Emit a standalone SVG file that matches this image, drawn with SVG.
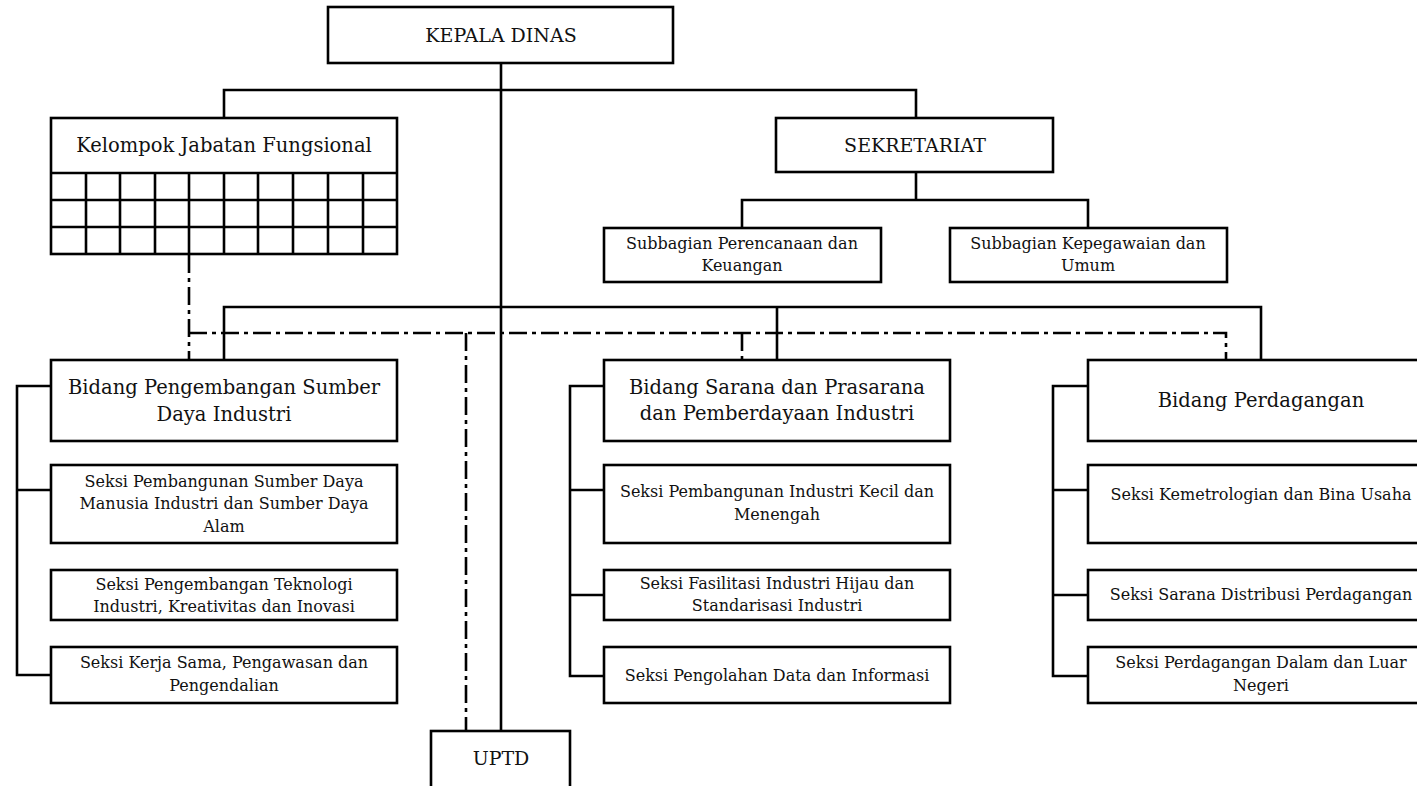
<svg xmlns="http://www.w3.org/2000/svg" width="1417" height="786" viewBox="0 0 1417 786">
<style>
rect{fill:#fff;stroke:#000;stroke-width:2.6}
.c line,.c path{stroke:#000;stroke-width:2.6;fill:none}
.c .dd{stroke-dasharray:18 5 4 5}
.g line{stroke:#000;stroke-width:2.6}
text{font-family:"DejaVu Serif","Liberation Serif",serif;fill:#111;text-anchor:middle}
.t1{font-size:19px}
.t2{font-size:19.5px}
.t3{font-size:16px}
</style>
<rect x="0" y="0" width="1417" height="786" style="fill:#fff;stroke:none"/>
<g class="c" id="connectors">
<line x1="501" y1="63" x2="501" y2="731"/>
<path d="M224 118V90H916V118"/>
<path d="M916 172V200M742 228V200H1088V228"/>
<path d="M224 360V307H1261V360M777 307V360"/>
<path d="M51 386H17V675H51M17 490H51"/>
<path d="M604 386H570V676H604M570 490H604M570 595H604"/>
<path d="M1088 386H1053V676H1088M1053 490H1088M1053 595H1088"/>
<path class="dd" d="M189 255V360"/>
<path class="dd" d="M189 333H1226V360"/>
<path class="dd" d="M466 333V731"/>
<path class="dd" d="M742 333V360"/>
</g>
<g id="kepala"><rect x="328" y="7" width="345" height="56"/><text class="t1" x="501" y="42">KEPALA DINAS</text></g>
<g id="kelompok" class="g">
<rect x="51" y="118" width="346" height="136"/>
<text class="t2" x="224" y="152">Kelompok Jabatan Fungsional</text>
<line x1="51" y1="173" x2="397" y2="173"/>
<line x1="51" y1="200" x2="397" y2="200"/>
<line x1="51" y1="227" x2="397" y2="227"/>
<line x1="86" y1="173" x2="86" y2="254"/>
<line x1="120" y1="173" x2="120" y2="254"/>
<line x1="155" y1="173" x2="155" y2="254"/>
<line x1="189" y1="173" x2="189" y2="254"/>
<line x1="224" y1="173" x2="224" y2="254"/>
<line x1="258" y1="173" x2="258" y2="254"/>
<line x1="293" y1="173" x2="293" y2="254"/>
<line x1="328" y1="173" x2="328" y2="254"/>
<line x1="363" y1="173" x2="363" y2="254"/>
</g>
<g id="sekretariat"><rect x="776" y="118" width="277" height="54"/><text class="t1" x="915" y="152">SEKRETARIAT</text></g>
<g id="sub-perencanaan"><rect x="604" y="228" width="277" height="54"/><text class="t3" x="742" y="249">Subbagian Perencanaan dan</text><text class="t3" x="742" y="271">Keuangan</text></g>
<g id="sub-kepegawaian"><rect x="950" y="228" width="277" height="54"/><text class="t3" x="1088" y="249">Subbagian Kepegawaian dan</text><text class="t3" x="1088" y="271">Umum</text></g>
<g id="bidang-psdi"><rect x="51" y="360" width="346" height="81"/><text class="t2" x="224" y="394">Bidang Pengembangan Sumber</text><text class="t2" x="224" y="421">Daya Industri</text></g>
<g id="seksi-sdm"><rect x="51" y="465" width="346" height="78"/><text class="t3" x="224" y="487">Seksi Pembangunan Sumber Daya</text><text class="t3" x="224" y="509">Manusia Industri dan Sumber Daya</text><text class="t3" x="224" y="532">Alam</text></g>
<g id="seksi-teknologi"><rect x="51" y="570" width="346" height="50"/><text class="t3" x="224" y="590">Seksi Pengembangan Teknologi</text><text class="t3" x="224" y="612">Industri, Kreativitas dan Inovasi</text></g>
<g id="seksi-kerjasama"><rect x="51" y="647" width="346" height="56"/><text class="t3" x="224" y="668">Seksi Kerja Sama, Pengawasan dan</text><text class="t3" x="224" y="691">Pengendalian</text></g>
<g id="bidang-sarana"><rect x="604" y="360" width="346" height="81"/><text class="t2" x="777" y="394">Bidang Sarana dan Prasarana</text><text class="t2" x="777" y="420">dan Pemberdayaan Industri</text></g>
<g id="seksi-ikm"><rect x="604" y="465" width="346" height="78"/><text class="t3" x="777" y="497">Seksi Pembangunan Industri Kecil dan</text><text class="t3" x="777" y="520">Menengah</text></g>
<g id="seksi-fasilitasi"><rect x="604" y="570" width="346" height="50"/><text class="t3" x="777" y="589">Seksi Fasilitasi Industri Hijau dan</text><text class="t3" x="777" y="611">Standarisasi Industri</text></g>
<g id="seksi-data"><rect x="604" y="647" width="346" height="56"/><text class="t3" x="777" y="681">Seksi Pengolahan Data dan Informasi</text></g>
<g id="bidang-perdagangan"><rect x="1088" y="360" width="346" height="81"/><text class="t2" x="1261" y="407">Bidang Perdagangan</text></g>
<g id="seksi-kemetrologian"><rect x="1088" y="465" width="346" height="78"/><text class="t3" x="1261" y="500">Seksi Kemetrologian dan Bina Usaha</text></g>
<g id="seksi-distribusi"><rect x="1088" y="570" width="346" height="50"/><text class="t3" x="1261" y="600">Seksi Sarana Distribusi Perdagangan</text></g>
<g id="seksi-dalam-luar"><rect x="1088" y="647" width="346" height="56"/><text class="t3" x="1261" y="668">Seksi Perdagangan Dalam dan Luar</text><text class="t3" x="1261" y="691">Negeri</text></g>
<g id="uptd"><rect x="431" y="731" width="139" height="70"/><text class="t1" x="501" y="765">UPTD</text></g>
</svg>
